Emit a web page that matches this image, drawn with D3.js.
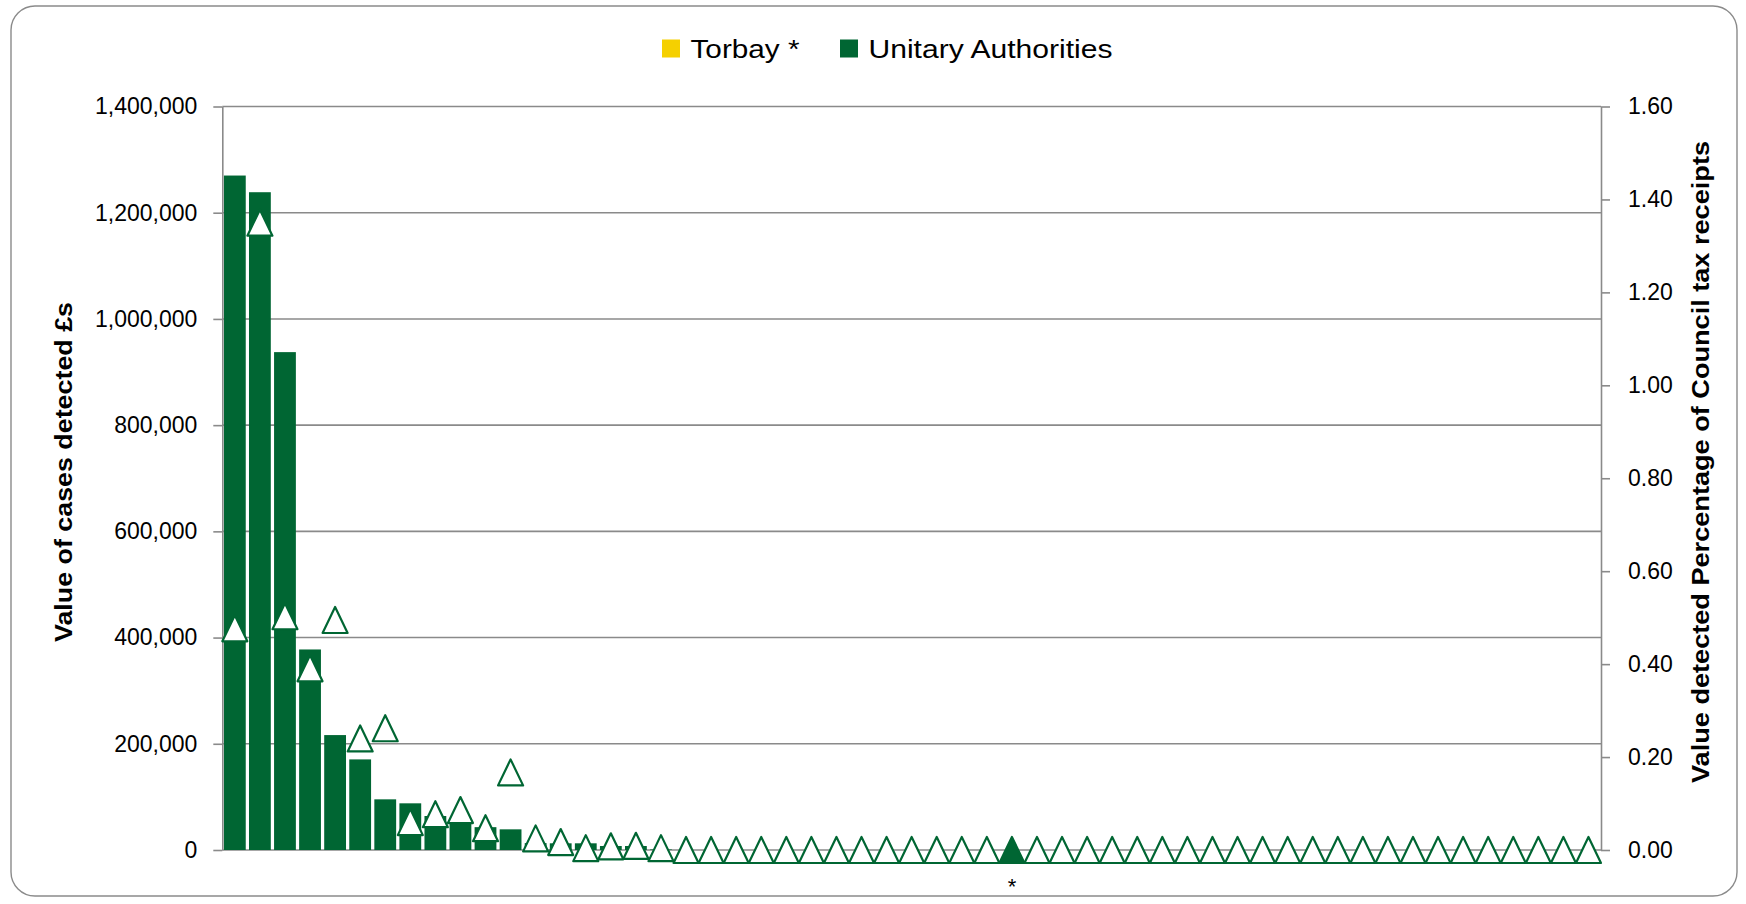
<!DOCTYPE html>
<html lang="en">
<head>
  <meta charset="utf-8" />
  <title>Value of cases detected – Unitary Authorities</title>
  <script src="https://d3js.org/d3.v7.min.js"></script>
  <style>
    html, body {
      margin: 0;
      padding: 0;
      background: #fff;
    }

    svg {
      display: block;
      font-family: "Liberation Sans", Arial, sans-serif;
    }

    .grid line {
      stroke: #8a8a8a;
      stroke-width: 1.6px;
    }

    .axis path,
    .axis line {
      stroke: #8a8a8a;
      stroke-width: 1.6px;
    }

    .axis text {
      fill: #000;
      font-size: 23px;
    }

    .title {
      font-weight: bold;
      font-size: 24px;
      fill: #000;
    }

    .legend text {
      font-size: 26px;
      fill: #000;
    }
  </style>
</head>
<body>
  <svg id="chart" width="1746" height="904"></svg>

  <script>
    // category labels along the x axis (only Torbay carries a mark)
    const categories = [
      "", "", "", "", "", "", "", "", "", "",
      "", "", "", "", "", "", "", "", "", "",
      "", "", "", "", "", "", "", "", "", "",
      "", "*", "", "", "", "", "", "", "", "",
      "", "", "", "", "", "", "", "", "", "",
      "", "", "", "", ""
    ];

    // bars: value of cases detected (£s), left axis
    const valueDetected = [
      1270000, 1238600, 937500, 377600, 216400, 170600, 95400, 87900, 64000, 50200,
      43000, 38900, 13000, 12600, 12600, 7500, 7500, 1000, 0, 0,
      0, 0, 0, 0, 0, 0, 0, 0, 0, 0,
      0, 0, 0, 0, 0, 0, 0, 0, 0, 0,
      0, 0, 0, 0, 0, 0, 0, 0, 0, 0,
      0, 0, 0, 0, 0
    ];

    // triangles: value detected as percentage of council tax receipts, right axis
    const pctCouncilTax = [
      0.477, 1.350, 0.503, 0.391, 0.495, 0.240, 0.262, 0.060, 0.077, 0.086,
      0.047, 0.167, 0.025, 0.017, 0.004, 0.008, 0.009, 0.004, 0, 0,
      0, 0, 0, 0, 0, 0, 0, 0, 0, 0,
      0, 0, 0, 0, 0, 0, 0, 0, 0, 0,
      0, 0, 0, 0, 0, 0, 0, 0, 0, 0,
      0, 0, 0, 0, 0
    ];

    const leftTicks = [0, 200000, 400000, 600000, 800000, 1000000, 1200000, 1400000];
    const rightTicks = [0, 0.2, 0.4, 0.6, 0.8, 1.0, 1.2, 1.4, 1.6];
    const seriesNames = ["Torbay *", "Unitary Authorities"];

    const green = "#006633";
    const yellow = "#f5d000";

    const svg = d3.select("#chart");

    // plot area
    const x0 = 222.3, x1 = 1601;
    const yTop = 106.5, yBottom = 850;

    const isTorbay = i => categories[i] === "*";

    const x = d3.scaleBand()
      .domain(d3.range(categories.length))
      .range([x0, x1])
      .paddingInner(0.13)
      .paddingOuter(0.065);

    const yLeft = d3.scaleLinear()
      .domain([0, d3.max(leftTicks)])
      .range([yBottom, yTop]);

    const yRight = d3.scaleLinear()
      .domain([0, d3.max(rightTicks)])
      .range([yBottom, yTop]);

    // outer frame
    svg.append("rect")
      .attr("x", 11)
      .attr("y", 6)
      .attr("width", 1726)
      .attr("height", 890)
      .attr("rx", 24)
      .attr("fill", "#fff")
      .attr("stroke", "#8a8a8a")
      .attr("stroke-width", 1.4);

    // gridlines
    svg.append("g")
      .attr("class", "grid")
      .selectAll("line")
      .data(leftTicks)
      .join("line")
      .attr("x1", x0)
      .attr("x2", x1)
      .attr("y1", d => yLeft(d))
      .attr("y2", d => yLeft(d));

    // left axis
    svg.append("g")
      .attr("class", "axis")
      .attr("transform", `translate(${x0},0)`)
      .call(d3.axisLeft(yLeft)
        .tickValues(leftTicks)
        .tickFormat(d3.format(","))
        .tickSize(9)
        .tickSizeOuter(0)
        .tickPadding(16));

    // right axis
    svg.append("g")
      .attr("class", "axis")
      .attr("transform", `translate(${x1},0)`)
      .call(d3.axisRight(yRight)
        .tickValues(rightTicks)
        .tickFormat(d3.format(".2f"))
        .tickSize(9)
        .tickSizeOuter(0)
        .tickPadding(18));

    // bars
    svg.append("g")
      .selectAll("rect")
      .data(valueDetected)
      .join("rect")
      .attr("x", (d, i) => x(i))
      .attr("width", x.bandwidth())
      .attr("y", d => yLeft(d))
      .attr("height", d => yBottom - yLeft(d))
      .attr("fill", (d, i) => isTorbay(i) ? yellow : green);

    // category labels
    svg.append("g")
      .selectAll("text")
      .data(categories)
      .join("text")
      .attr("x", (d, i) => x(i) + x.bandwidth() / 2)
      .attr("y", 894)
      .attr("text-anchor", "middle")
      .attr("font-size", 22)
      .text(d => d);

    // triangle markers on the secondary axis
    const tri = "M0,-13L12.5,13L-12.5,13Z";
    svg.append("g")
      .selectAll("path")
      .data(pctCouncilTax)
      .join("path")
      .attr("d", tri)
      .attr("transform", (d, i) => `translate(${x(i) + x.bandwidth() / 2},${yRight(d)})`)
      .attr("fill", (d, i) => isTorbay(i) ? green : "#fff")
      .attr("stroke", green)
      .attr("stroke-width", 2.2)
      .attr("stroke-linejoin", "round");

    // axis titles
    svg.append("text")
      .attr("class", "title")
      .attr("transform", "translate(72,472) rotate(-90)")
      .attr("text-anchor", "middle")
      .attr("textLength", 340)
      .attr("lengthAdjust", "spacingAndGlyphs")
      .text("Value of cases detected £s");

    svg.append("text")
      .attr("class", "title")
      .attr("transform", "translate(1709,462) rotate(-90)")
      .attr("text-anchor", "middle")
      .attr("textLength", 642)
      .attr("lengthAdjust", "spacingAndGlyphs")
      .text("Value detected Percentage of Council tax receipts");

    // legend
    const legend = svg.append("g").attr("class", "legend");
    const legendItems = [
      { name: seriesNames[0], color: yellow, x: 662, w: 109 },
      { name: seriesNames[1], color: green, x: 840, w: 244 }
    ];
    legendItems.forEach(item => {
      legend.append("rect")
        .attr("x", item.x)
        .attr("y", 39.5)
        .attr("width", 18)
        .attr("height", 18)
        .attr("fill", item.color);
      legend.append("text")
        .attr("x", item.x + 28.5)
        .attr("y", 57.5)
        .attr("textLength", item.w)
        .attr("lengthAdjust", "spacingAndGlyphs")
        .text(item.name);
    });
  </script>
</body>
</html>
